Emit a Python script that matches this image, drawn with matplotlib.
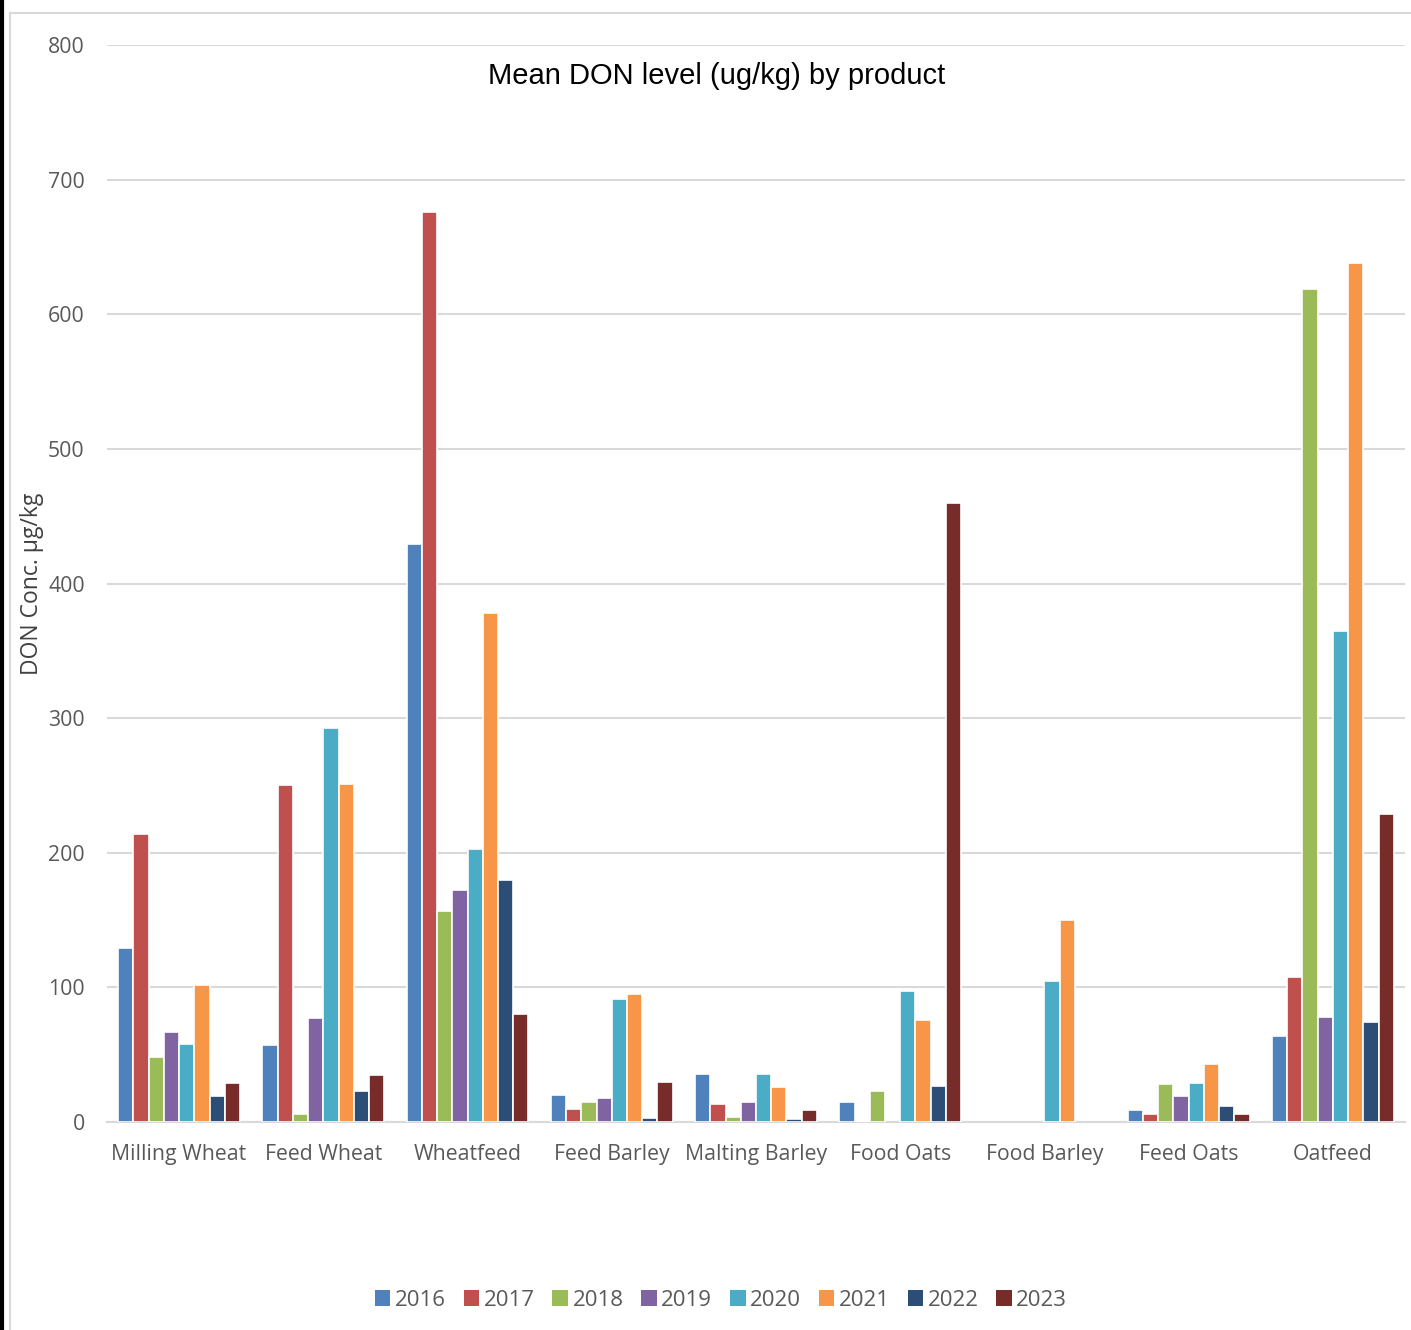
import matplotlib
matplotlib.use("Agg")
import matplotlib.pyplot as plt
import numpy as np
from matplotlib.patches import Rectangle
from matplotlib.lines import Line2D

categories = ["Milling Wheat", "Feed Wheat", "Wheatfeed", "Feed Barley", "Malting Barley",
              "Food Oats", "Food Barley", "Feed Oats", "Oatfeed"]
years = ["2016", "2017", "2018", "2019", "2020", "2021", "2022", "2023"]

v2016 = [129, 57, 429, 20, 36, 15, 0, 9, 64]
v2017 = [214, 250, 676, 10, 13, 0.5, 0, 6, 108]
v2018 = [48, 6, 157, 15, 3.5, 23, 0, 28, 619]
v2019 = [67, 77, 172, 18, 15, 0, 0, 19, 78]
v2020 = [58, 293, 203, 91, 36, 97, 105, 29, 365]
v2021 = [102, 251, 378, 95, 26, 76, 150, 43, 638]
v2022 = [19, 23, 180, 3, 2, 27, 0, 12, 74]
v2023 = [29, 35, 80, 30, 9, 460, 0, 6, 229]
series = [v2016, v2017, v2018, v2019, v2020, v2021, v2022, v2023]

colors = ["#4F81BD", "#C0504D", "#9BBB59", "#8064A2", "#4BACC6", "#F79646", "#2C4D75", "#772C2A"]

fig = plt.figure(figsize=(14.11, 13.30), dpi=100)
ax = fig.add_axes([107/1411, 1 - 1122/1330, (1405-107)/1411, (1122-45)/1330])

n = len(years)
group = 0.845
slot = group / n
x = np.arange(len(categories))
for i, (vals, c) in enumerate(zip(series, colors)):
    offs = -group/2 + slot*(i + 0.5)
    bars = ax.bar(x + offs, vals, width=slot, color=c, edgecolor="white", linewidth=1.2, zorder=3)
    for b, v in zip(bars, vals):
        if v == 0:
            b.set_visible(False)

ax.set_xlim(-0.5, len(categories) - 0.5)
ax.set_ylim(0, 800)
ax.set_yticks(np.arange(0, 801, 100))
ax.grid(axis="y", color="#D9D9D9", linewidth=1.5, zorder=0)
for s in ["top", "right", "left"]:
    ax.spines[s].set_visible(False)
ax.spines["bottom"].set_color("#D9D9D9")
ax.spines["bottom"].set_linewidth(1.5)
ax.tick_params(axis="both", length=0, colors="#595959", labelsize=15.3)
ax.tick_params(axis="y", pad=16)
ax.tick_params(axis="x", pad=16)
ax.set_xticks(x)
ax.set_xticklabels(categories, fontfamily="Open Sans")
for lab in ax.get_yticklabels():
    lab.set_fontfamily("Open Sans")

fig.text(717/1411, 1 - 76/1330, "Mean DON level (ug/kg) by product", ha="center", va="center",
         fontsize=21, fontfamily="Liberation Sans", color="black")
fig.text(32/1411, 1 - 584/1330, "DON Conc. µg/kg", rotation=90, ha="center", va="center",
         fontsize=16.5, fontfamily="Open Sans", color="#404040")

handles = [Rectangle((0, 0), 1, 1, facecolor=c, edgecolor="none") for c in colors]
fig.legend(handles, years, loc="center", bbox_to_anchor=(721/1411, 1 - 1300/1330), ncol=8,
           frameon=False, prop={"family": "Open Sans", "size": 16}, labelcolor="#595959",
           handlelength=0.7, handleheight=0.7, handletextpad=0.2, columnspacing=0.8)

# chart borders
fig.add_artist(Line2D([1.5/1411, 1.5/1411], [0, 1], color="black", linewidth=3, transform=fig.transFigure))
fig.add_artist(Line2D([10/1411, 10/1411], [0, 1 - 13/1330], color="#D9D9D9", linewidth=1.5, transform=fig.transFigure))
fig.add_artist(Line2D([10/1411, 1], [1 - 13/1330, 1 - 13/1330], color="#D9D9D9", linewidth=1.5, transform=fig.transFigure))

fig.savefig("out.png", dpi=100, facecolor="white")
